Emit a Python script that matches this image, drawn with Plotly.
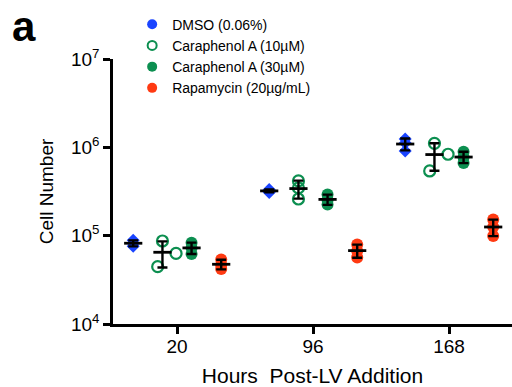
import numpy as np
import plotly.graph_objects as go

hours = ["20", "96", "168"]
series_names = ["DMSO (0.06%)", "Caraphenol A (10µM)", "Caraphenol A (30µM)", "Rapamycin (20µg/mL)"]
y_tickvals = [1e4, 1e5, 1e6, 1e7]
y_ticktext = ["10<sup>4</sup>", "10<sup>5</sup>", "10<sup>6</sup>", "10<sup>7</sup>"]

# cell numbers, three replicates per time point
dmso = [[8.85e4, 8.2e4, 7.57e4], [3.33e5, 3.23e5, 3.08e5], [1.24e6, 1.12e6, 9.1e5]]
cara10 = [[8.7e4, 6.3e4, 4.46e4], [4.17e5, 3.47e5, 2.6e5], [1.11e6, 8.35e5, 5.4e5]]
cara30 = [[8.34e4, 7.26e4, 6.2e4], [2.93e5, 2.54e5, 2.25e5], [8.93e5, 7.7e5, 6.66e5]]
rapa = [[5.37e4, 4.66e4, 4.2e4], [7.95e4, 6.7e4, 5.67e4], [1.52e5, 1.25e5, 9.9e4]]

colors = ["#1A44FF", "#0C8F50", "#0C8F50", "#FF3A12"]
symbols = ["diamond", "circle-open", "circle", "circle"]
offsets = [-0.322, -0.107, 0.107, 0.325]
jitter = {1: [0.0, 0.1, -0.035]}

data = [dmso, cara10, cara30, rapa]

fig = go.Figure()

for si, (vals, col, sym, off) in enumerate(zip(data, colors, symbols, offsets)):
    xs, ys = [], []
    for gi, reps in enumerate(vals):
        jit = jitter.get(si, [0, 0, 0])
        if gi == 1:
            jit = [0, 0, 0]
        for ri, v in enumerate(reps):
            xs.append(gi + off + jit[ri])
            ys.append(v)
    if sym == "circle-open":
        marker = dict(symbol=sym, size=11, color=col, line=dict(width=2.2, color=col))
    elif sym == "diamond":
        marker = dict(symbol=sym, size=10, color=col, line=dict(width=0))
    else:
        marker = dict(symbol=sym, size=12, color=col, line=dict(width=0))
    fig.add_trace(go.Scatter(x=xs, y=ys, mode="markers", marker=marker, showlegend=False))

# mean +/- SD overlays
for si, (vals, off) in enumerate(zip(data, offsets)):
    arr = np.array(vals)
    means = arr.mean(axis=1)
    sds = arr.std(axis=1, ddof=1)
    xs = [gi + off for gi in range(len(vals))]
    fig.add_trace(go.Scatter(
        x=xs, y=means, mode="markers",
        marker=dict(symbol="line-ew", size=13, line=dict(width=2.8, color="black"), color="black"),
        error_y=dict(type="data", array=sds, arrayminus=sds, color="black", thickness=2.4, width=5),
        showlegend=False))

# legend entries
for name, col, sym in zip(series_names, colors, ["circle", "circle-open", "circle", "circle"]):
    if sym == "circle-open":
        mk = dict(symbol=sym, size=9, color=col, line=dict(width=2, color=col))
    else:
        mk = dict(symbol=sym, size=10, color=col)
    fig.add_trace(go.Scatter(x=[None], y=[None], mode="markers", marker=mk, name=name))

font = "Arial, Liberation Sans, Helvetica, sans-serif"

fig.update_layout(
    width=512, height=387,
    margin=dict(l=113, r=0, t=59, b=63),
    paper_bgcolor="white", plot_bgcolor="white",
    font=dict(family=font, color="black"),
    legend=dict(x=0.048, y=1.19, xanchor="left", yanchor="top",
                font=dict(size=14, family=font, color="black"),
                bgcolor="rgba(0,0,0,0)", itemclick=False, tracegroupgap=0),
    annotations=[dict(text="<b>a</b>", x=(10 - 113) / 399, y=(324 - 1) / 265,
                      xref="paper", yref="paper", showarrow=False,
                      font=dict(size=42, family=font, color="black"),
                      xanchor="left", yanchor="top")],
)

fig.update_xaxes(
    range=[-0.4706, 2.4632], tickvals=[0, 1, 2], ticktext=hours,
    showline=True, linecolor="black", linewidth=2.5, ticks="outside", ticklen=7,
    tickwidth=2.5, tickcolor="black", showgrid=False, zeroline=False,
    tickfont=dict(size=19, family=font, color="black"), ticklabelstandoff=-4,
    title=dict(text="Hours\u00a0 Post-LV Addition", font=dict(size=21, family=font, color="black"), standoff=15),
    automargin=False,
)
fig.update_yaxes(
    type="log", range=[4, 7], tickvals=y_tickvals, ticktext=y_ticktext,
    showline=True, linecolor="black", linewidth=2.5, ticks="outside", ticklen=7,
    tickwidth=2.5, tickcolor="black", showgrid=False, zeroline=False,
    tickfont=dict(size=19, family=font, color="black"),
    title=dict(text="Cell Number", font=dict(size=19, family=font, color="black"), standoff=13),
    automargin=False,
)

fig.write_html("out.html")
